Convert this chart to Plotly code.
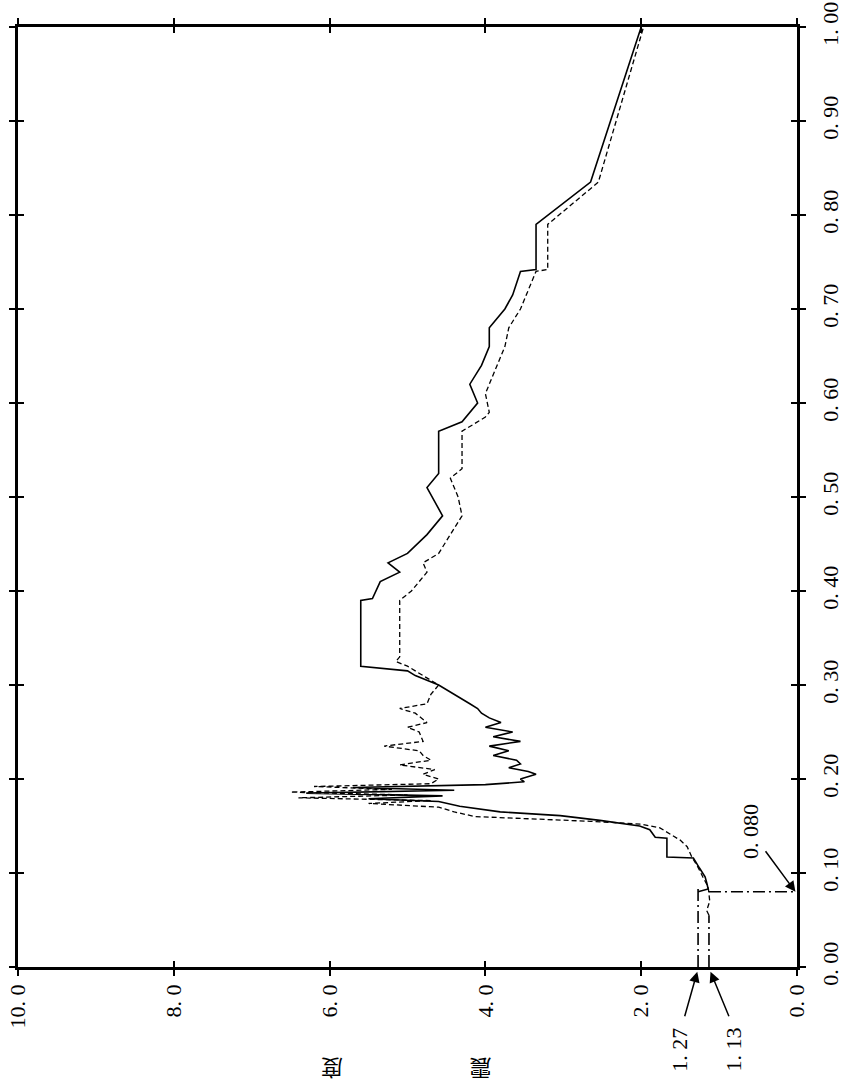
import plotly.graph_objects as go

# Period axis (drawn vertically, right side) and value axis (drawn horizontally, reversed)
period_ticks = [0.0, 0.1, 0.2, 0.3, 0.4, 0.5, 0.6, 0.7, 0.8, 0.9, 1.0]
period_labels = ["0. 00", "0. 10", "0. 20", "0. 30", "0. 40", "0. 50",
                 "0. 60", "0. 70", "0. 80", "0. 90", "1. 00"]
value_ticks = [0, 2, 4, 6, 8, 10]
value_labels = ["0. 0", "2. 0", "4. 0", "6. 0", "8. 0", "10. 0"]

solid_T = [0.080, 0.083, 0.090, 0.096, 0.105, 0.116, 0.117, 0.137, 0.138, 0.146,
           0.150, 0.156, 0.161, 0.165, 0.171, 0.176, 0.179, 0.182, 0.185, 0.188,
           0.191, 0.194, 0.197, 0.200, 0.205, 0.208, 0.212, 0.216, 0.220, 0.225,
           0.230, 0.235, 0.240, 0.245, 0.250, 0.255, 0.260, 0.265, 0.270, 0.275,
           0.280, 0.290, 0.300, 0.310, 0.315, 0.320, 0.390, 0.392, 0.410, 0.420,
           0.430, 0.440, 0.460, 0.480, 0.510, 0.525, 0.570, 0.580, 0.600, 0.620,
           0.640, 0.660, 0.680, 0.700, 0.715, 0.740, 0.742, 0.790, 0.835, 1.000]
solid_V = [1.27, 1.14, 1.16, 1.18, 1.25, 1.33, 1.67, 1.67, 1.82, 1.89,
           2.02, 2.53, 3.04, 3.81, 4.33, 4.60, 5.50, 4.55, 6.30, 4.40,
           5.70, 4.00, 3.50, 3.55, 3.35, 3.45, 3.70, 3.55, 3.60, 3.90,
           3.70, 3.95, 3.55, 3.90, 3.65, 4.00, 3.80, 3.95, 4.05, 4.10,
           4.20, 4.40, 4.60, 4.90, 5.00, 5.60, 5.60, 5.45, 5.35, 5.10,
           5.25, 5.00, 4.75, 4.55, 4.75, 4.60, 4.60, 4.30, 4.10, 4.20,
           4.05, 3.95, 3.95, 3.75, 3.65, 3.55, 3.35, 3.35, 2.65, 2.00]

dashed_T = [0.055, 0.060, 0.070, 0.080, 0.085, 0.096, 0.106, 0.117, 0.128, 0.135,
            0.140, 0.148, 0.152, 0.155, 0.160, 0.165, 0.170, 0.174, 0.177, 0.180,
            0.183, 0.186, 0.189, 0.192, 0.195, 0.200, 0.205, 0.210, 0.215, 0.220,
            0.225, 0.230, 0.235, 0.240, 0.250, 0.255, 0.260, 0.270, 0.275, 0.280,
            0.290, 0.300, 0.310, 0.320, 0.325, 0.330, 0.390, 0.400, 0.420, 0.430,
            0.440, 0.480, 0.500, 0.520, 0.530, 0.570, 0.585, 0.590, 0.610, 0.630,
            0.660, 0.680, 0.700, 0.720, 0.740, 0.742, 0.790, 0.835, 1.000]
dashed_V = [1.13, 1.16, 1.12, 1.13, 1.14, 1.21, 1.27, 1.35, 1.41, 1.50,
            1.60, 1.76, 2.00, 2.65, 4.13, 4.40, 4.60, 5.50, 4.70, 6.40,
            5.00, 6.50, 5.20, 6.20, 4.70, 4.60, 4.80, 4.65, 5.10, 4.70,
            4.80, 4.85, 5.30, 4.80, 4.85, 5.00, 4.75, 4.90, 5.10, 4.75,
            4.70, 4.60, 4.80, 5.00, 5.15, 5.10, 5.10, 4.95, 4.75, 4.80,
            4.60, 4.30, 4.35, 4.45, 4.30, 4.30, 4.00, 3.95, 4.00, 3.90,
            3.75, 3.70, 3.55, 3.45, 3.35, 3.20, 3.20, 2.55, 1.97]

ref_period = 0.080
ref_levels = [1.27, 1.13]
ref_level_labels = ["1. 27", "1. 13"]
axis_title_chars = ["度", "震"]
axis_title_pos = [5.97, 4.06]

SERIF = "Liberation Serif, Times New Roman, serif"
CJK = "Noto Sans CJK SC"

fig = go.Figure()

fig.add_trace(go.Scatter(x=solid_V, y=solid_T, mode="lines",
                         line=dict(color="black", width=1.6), showlegend=False))
fig.add_trace(go.Scatter(x=dashed_V, y=dashed_T, mode="lines",
                         line=dict(color="black", width=1.3, dash="5px,3px"),
                         showlegend=False))

# dash-dot reference lines
dd = dict(color="black", width=1.6, dash="12px,4px,2px,4px")
fig.add_trace(go.Scatter(x=[ref_levels[0], ref_levels[0]], y=[0, ref_period + 0.003],
                         mode="lines", line=dd, showlegend=False))
fig.add_trace(go.Scatter(x=[ref_levels[1], ref_levels[1]], y=[0, 0.055],
                         mode="lines", line=dd, showlegend=False))
fig.add_trace(go.Scatter(x=[ref_levels[1], 0], y=[ref_period, ref_period],
                         mode="lines", line=dd, showlegend=False))

# overlay trace for inner-tick axes
fig.add_trace(go.Scatter(x=[0], y=[0], xaxis="x2", yaxis="y2", mode="markers",
                         marker=dict(opacity=0), showlegend=False, hoverinfo="skip"))

axis_common = dict(showgrid=False, zeroline=False, color="black", automargin=False)
fig.update_layout(
    width=843, height=1085,
    margin=dict(l=18, r=46, t=27, b=118),
    paper_bgcolor="white", plot_bgcolor="white",
    xaxis=dict(range=[10, 0], tickvals=value_ticks, ticktext=value_labels,
               ticks="outside", ticklen=6, tickwidth=2, mirror="allticks",
               showline=True, linewidth=2.5, linecolor="black",
               tickangle=-90, tickfont=dict(family=SERIF, size=22, color="black"),
               ticklabelstandoff=0, **axis_common),
    yaxis=dict(range=[0, 1], tickvals=period_ticks, ticktext=period_labels,
               side="right", ticks="outside", ticklen=6, tickwidth=2, mirror="allticks",
               showline=True, linewidth=2.5, linecolor="black",
               tickangle=-90, tickfont=dict(family=SERIF, size=22, color="black"),
               ticklabelstandoff=6, **axis_common),
    xaxis2=dict(range=[10, 0], overlaying="x", anchor="y2", tickvals=value_ticks,
                ticks="inside", ticklen=6, tickwidth=2, mirror="allticks",
                showticklabels=False, showline=False, **axis_common),
    yaxis2=dict(range=[0, 1], overlaying="y", anchor="x2", side="right",
                tickvals=period_ticks, ticks="inside", ticklen=6, tickwidth=2,
                mirror="allticks", showticklabels=False, showline=False, **axis_common),
)

ann_font = dict(family=SERIF, size=22, color="black")
arrow = dict(showarrow=True, arrowhead=2, arrowsize=1.4, arrowwidth=1.5,
             arrowcolor="black", text="")
label = dict(showarrow=False, font=ann_font, textangle=-90, xref="x", yref="paper",
             xanchor="center", yanchor="middle")

# 0.080 label and arrow
fig.add_annotation(x=0.6, y=0.144, text="0. 080", **label)
fig.add_annotation(x=0.02, y=ref_period, xref="x", yref="paper",
                   ax=-31, ay=-42, axref="pixel", ayref="pixel", **arrow)

# 1.27 / 1.13 labels and arrows (below the frame, so paper-referenced y)
fig.add_annotation(x=1.50, y=-0.088, text=ref_level_labels[0], **label)
fig.add_annotation(x=0.81, y=-0.088, text=ref_level_labels[1], **label)
fig.add_annotation(x=ref_levels[0] + 0.01, y=-0.005, xref="x", yref="paper",
                   ax=-13, ay=46, axref="pixel", ayref="pixel", **arrow)
fig.add_annotation(x=ref_levels[1] - 0.02, y=-0.005, xref="x", yref="paper",
                   ax=19, ay=46, axref="pixel", ayref="pixel", **arrow)

# axis title glyphs (cut at bottom edge)
for ch, pos in zip(axis_title_chars, axis_title_pos):
    fig.add_annotation(x=pos, y=-0.109, text=ch, textangle=180, showarrow=False,
                       font=dict(family=CJK, size=22, color="black"),
                       xref="x", yref="paper", xanchor="center", yanchor="middle")

fig.write_html("out.html")
